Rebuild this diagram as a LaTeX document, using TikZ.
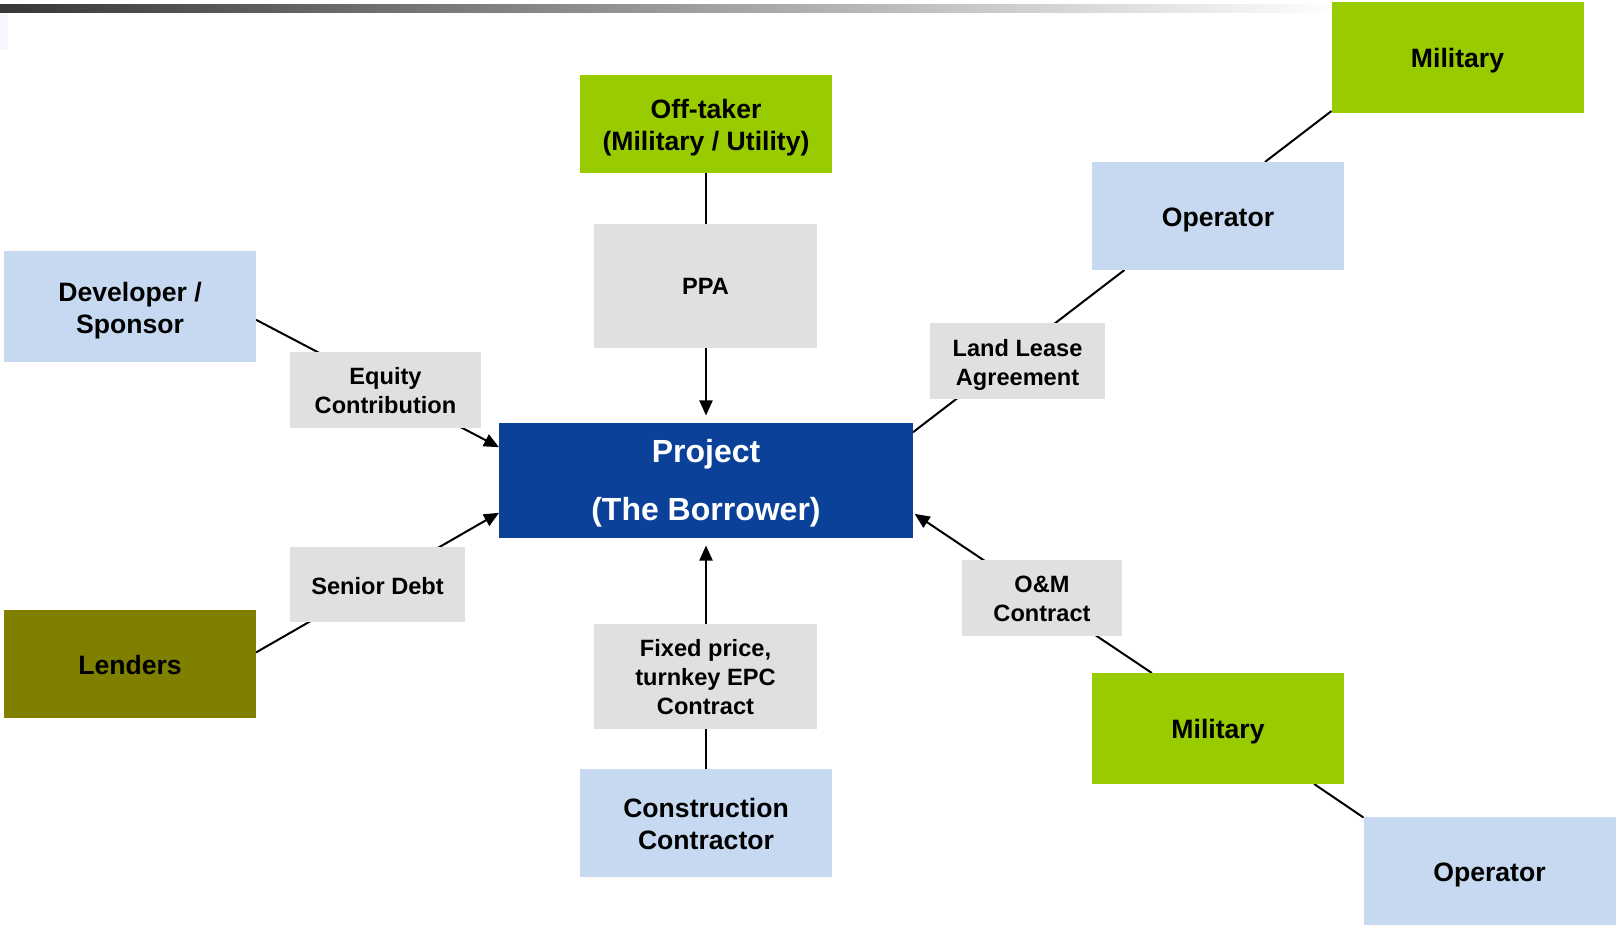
\documentclass[tikz,border=0pt]{standalone}
\usepackage{fontspec}
\setmainfont{Liberation Sans}
\usetikzlibrary{arrows.meta,backgrounds}
\definecolor{paleblue}{RGB}{198,217,241}
\definecolor{limegreen}{RGB}{153,204,0}
\definecolor{lenderolive}{RGB}{128,128,0}
\definecolor{labelgray}{RGB}{224,224,224}
\definecolor{projectblue}{RGB}{12,65,154}
\definecolor{bardark}{RGB}{55,55,55}
\definecolor{faintlilac}{RGB}{246,246,252}
\newcommand{\topgap}[1]{\rule{0pt}{#1}}

\begin{document}
\begin{tikzpicture}[x=0.5pt, y=-0.5pt,
  every node/.style={inner sep=0pt, outer sep=0pt, align=center},
  party/.style={minimum width=126pt, minimum height=54pt, font=\fontsize{13.3}{16}\selectfont\bfseries},
  deal/.style={fill=labelgray, font=\fontsize{11.8}{14.5}\selectfont\bfseries},
  link/.style={line width=1pt},
  flow/.style={link, -{Triangle[length=7.5pt,width=6.5pt]}}]
\useasboundingbox (0,0) rectangle (1618,925);

% header bar
\shade[left color=bardark, right color=white] (0,5) rectangle (1340,13);
\fill[faintlilac] (0,13) rectangle (8,50);

% parties
\node[party, fill=limegreen, minimum height=55.5pt] (militaryA) at (1457.5,57.5) {\topgap{13.2pt}Military};
\node[party, fill=paleblue] (operatorA) at (1218,216) {\topgap{13.2pt}Operator};
\node[party, fill=limegreen, minimum height=49pt] (offtaker) at (706,124) {\topgap{13.6pt}Off-taker\\(Military / Utility)};
\node[party, fill=paleblue, minimum height=55.5pt] (developer) at (130,306.5) {\topgap{13.6pt}Developer /\\Sponsor};
\node[party, fill=lenderolive] (lenders) at (130,663.5) {\topgap{10.7pt}Lenders};
\node[party, fill=paleblue] (builder) at (706,823) {\topgap{10.7pt}Construction\\Contractor};
\node[party, fill=limegreen, minimum height=55.5pt] (militaryB) at (1218,728.5) {\topgap{13.2pt}Military};
\node[party, fill=paleblue] (operatorB) at (1489.5,871) {\topgap{13.2pt}Operator};

% the borrower
\node[fill=projectblue, text=white, minimum width=207pt, minimum height=57.5pt,
  font=\fontsize{16}{29}\selectfont\bfseries]
  (project) at (706,480) {\topgap{14.8pt}Project\\(The Borrower)};

% contracts
\node[deal, minimum width=111.5pt, minimum height=62pt] (ppa) at (705.5,286) {PPA};
\node[deal, minimum width=95.5pt, minimum height=38pt] (equity) at (385.5,390) {\topgap{9.6pt}Equity\\Contribution};
\node[deal, minimum width=87.5pt, minimum height=38pt] (lease) at (1017.5,361) {\topgap{12.5pt}Land Lease\\Agreement};
\node[deal, minimum width=87.5pt, minimum height=37.5pt] (debt) at (377.5,584.5) {\topgap{10.1pt}Senior Debt};
\node[deal, minimum width=80pt, minimum height=38pt] (om) at (1042,598) {\topgap{9.6pt}O\&M\\Contract};
\node[deal, minimum width=111.5pt, minimum height=52.5pt] (epc) at (705.5,676.5) {\topgap{9.6pt}Fixed price,\\turnkey EPC\\Contract};

\begin{scope}[on background layer]
\draw[link] (militaryA.203) -- (operatorA.49);
\draw[link] (operatorA.-150) -- (project.13);
\draw[flow, shorten >=3.5pt] (offtaker.south) -- (project.north);
\draw[flow] (developer.-6) -- (project.171);
\draw[flow] (lenders.5) -- (project.-171);
\draw[flow, shorten >=4pt] (builder.north) -- (project.south);
\draw[flow, shorten >=1pt] (militaryB.140) -- (project.-9);
\draw[link] (militaryB.-30) -- (operatorB.157);
\end{scope}
\end{tikzpicture}
\end{document}
